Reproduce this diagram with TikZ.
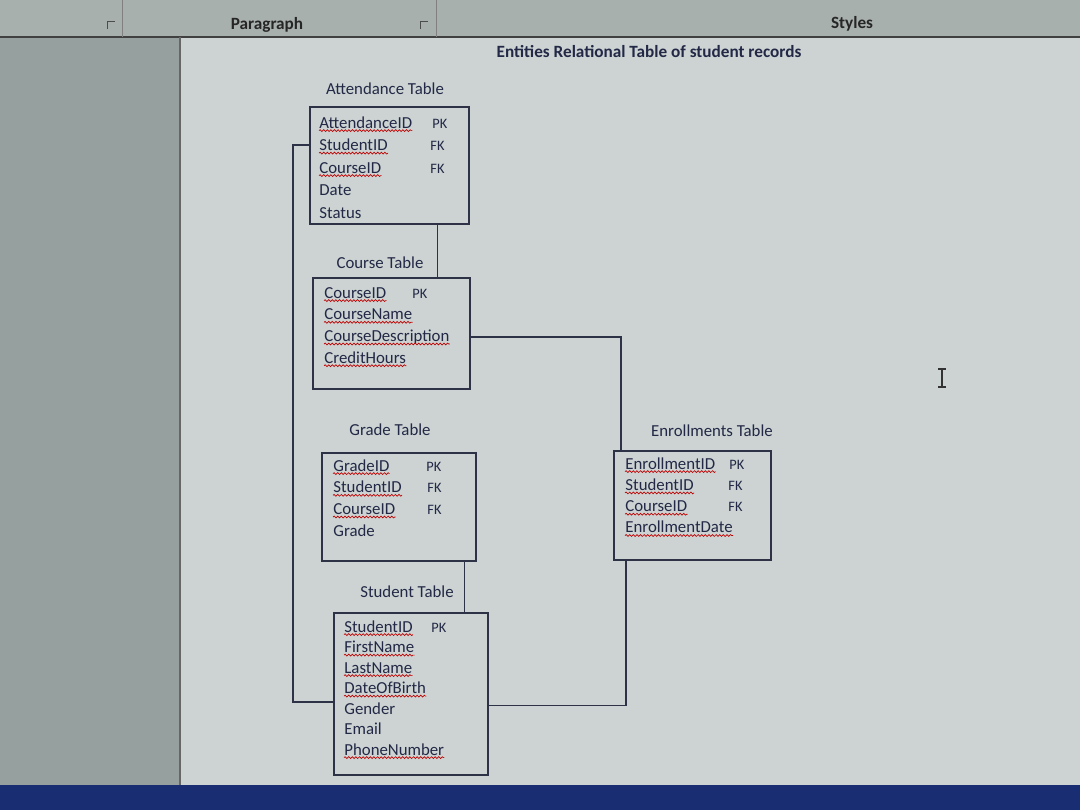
\documentclass[tikz,border=0pt]{standalone}
\usepackage{fontspec}
\setmainfont{Carlito}
\usetikzlibrary{calc,fit,decorations.pathmorphing}
\begin{document}
\begin{tikzpicture}[x=0.5pt, y=-0.5pt,
    tablebox/.style={draw=boxline, line width=0.8pt, inner sep=0pt},
    title/.style={font=\fontsize{8.4}{10}\selectfont, text=ink, inner sep=0pt},
    field/.style={font=\fontsize{8.4}{10}\selectfont, text=ink, anchor=base west, inner sep=0pt},
    key/.style={font=\fontsize{7.2}{8}\selectfont, text=ink, anchor=base west, inner sep=0pt},
    spell/.style={draw=red!75!black, line width=0.35pt, decorate, decoration={snake, amplitude=0.45pt, segment length=1.8pt}},
    link/.style={draw=boxline, line width=0.8pt},
    ribbon/.style={font=\bfseries\fontsize{8.6}{10}\selectfont, text=black!85, inner sep=0pt},
  ]

\definecolor{ink}{RGB}{35,40,70}
\definecolor{boxline}{RGB}{45,50,70}
\definecolor{page}{RGB}{204,211,210}
\definecolor{margin}{RGB}{150,160,158}
\definecolor{band}{RGB}{168,176,174}
\definecolor{taskbar}{RGB}{25,45,115}

% screen background
\useasboundingbox (0,0) rectangle (1080,810);
\fill[margin] (0,0) rectangle (1080,810);
\fill[band] (0,0) rectangle (1080,37);
\fill[page] (180,37) rectangle (1080,785);
\fill[taskbar] (0,785) rectangle (1080,810);
\draw[black!75, line width=0.7pt] (0,37) -- (1080,37);
\draw[black!60, line width=0.7pt] (180,37) -- (180,785);
\draw[black!50, line width=0.5pt] (122,0) -- (122,37);
\draw[black!50, line width=0.5pt] (436,0) -- (436,37);
\foreach \x in {112,425}
  \draw[black!70, line width=0.5pt] (\x-5,21) -- (\x-5,29) (\x-5,21) -- (\x+3,21);
\node[ribbon] (paragraph) at (267,25) {Paragraph};
\node[ribbon] (styles) at (852,24) {Styles};
% text cursor
\draw[black!80, line width=0.6pt] (942,369) -- (942,387) (938,369) -- (946,369) (938,387) -- (946,387);

% heading
\node[font=\bfseries\fontsize{8.6}{10}\selectfont, text=ink, inner sep=0pt] (heading) at (649,52) {Entities Relational Table of student records};

% Attendance Table
\node[title] (atttitle) at (385,89) {Attendance Table};
\node[tablebox, fit={(310,107) (469,224)}] (att) {};
\foreach \name/\s [count=\i] in {AttendanceID/1,StudentID/1,CourseID/1,Date/0,Status/0} {
    \node[field] (attf\i) at (319,128+22.5*\i-22.5) {\name};
    \ifnum\s=1 \draw[spell] ([yshift=-1.3pt]attf\i.base west) -- ([yshift=-1.3pt]attf\i.base east); \fi
}
\node[key] (attk1) at (432,128) {PK};
\node[key] (attk2) at (430,150.5) {FK};
\node[key] (attk3) at (430,173) {FK};

% Course Table
\node[title] (crstitle) at (380,263) {Course Table};
\node[tablebox, fit={(313,278) (470,389)}] (crs) {};
\foreach \name [count=\i] in {CourseID,CourseName,CourseDescription,CreditHours} {
    \node[field] (crsf\i) at (324,298+21.7*\i-21.7) {\name};
    \draw[spell] ([yshift=-1.3pt]crsf\i.base west) -- ([yshift=-1.3pt]crsf\i.base east);
}
\node[key] (crsk1) at (412,298) {PK};

% Grade Table
\node[title] (grdtitle) at (390,430) {Grade Table};
\node[tablebox, fit={(322,453) (476,561)}] (grd) {};
\foreach \name/\s [count=\i] in {GradeID/1,StudentID/1,CourseID/1,Grade/0} {
    \node[field] (grdf\i) at (333,471+21.7*\i-21.7) {\name};
    \ifnum\s=1 \draw[spell] ([yshift=-1.3pt]grdf\i.base west) -- ([yshift=-1.3pt]grdf\i.base east); \fi
}
\node[key] (grdk1) at (426,471) {PK};
\node[key] (grdk2) at (427,492.7) {FK};
\node[key] (grdk3) at (427,514.4) {FK};

% Enrollments Table
\node[title] (enrtitle) at (712,431) {Enrollments Table};
\node[tablebox, fit={(614,451) (771,560)}] (enr) {};
\foreach \name [count=\i] in {EnrollmentID,StudentID,CourseID,EnrollmentDate} {
    \node[field] (enrf\i) at (625,469+21.3*\i-21.3) {\name};
    \draw[spell] ([yshift=-1.3pt]enrf\i.base west) -- ([yshift=-1.3pt]enrf\i.base east);
}
\node[key] (enrk1) at (729,469) {PK};
\node[key] (enrk2) at (728,490.3) {FK};
\node[key] (enrk3) at (728,511.6) {FK};

% Student Table
\node[title] (stutitle) at (407,592) {Student Table};
\node[tablebox, fit={(334,613) (488,775)}] (stu) {};
\foreach \name/\s [count=\i] in {StudentID/1,FirstName/1,LastName/1,DateOfBirth/1,Gender/0,Email/0,PhoneNumber/1} {
    \node[field] (stuf\i) at (344,632+20.5*\i-20.5) {\name};
    \ifnum\s=1 \draw[spell] ([yshift=-1.3pt]stuf\i.base west) -- ([yshift=-1.3pt]stuf\i.base east); \fi
}
\node[key] (stuk1) at (431,632) {PK};

% relations
\coordinate (bendtop) at (293,145);
\draw[link] (att.west |- bendtop) -- (bendtop) |- ($(stu.north west)!0.55!(stu.south west)$);
\draw[link] ($(att.south west)!0.8!(att.south east)$) coordinate (attdown) -- (attdown |- crs.north);
\draw[link] ($(crs.north east)!0.53!(crs.south east)$) -| ($(enr.north west)!0.05!(enr.north east)$);
\draw[link] ($(enr.south west)!0.08!(enr.south east)$) |- ($(stu.north east)!0.57!(stu.south east)$);
\draw[link] ($(grd.south west)!0.92!(grd.south east)$) coordinate (grddown) -- (grddown |- stu.north);

\end{tikzpicture}
\end{document}
